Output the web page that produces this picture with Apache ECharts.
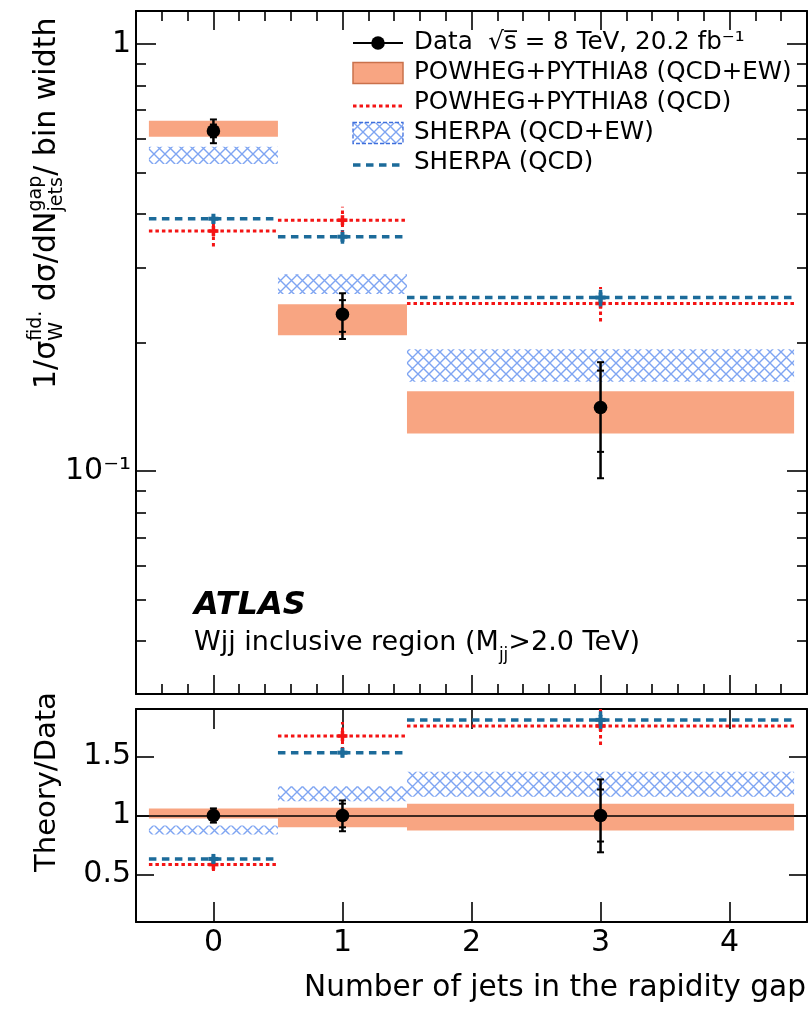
<!DOCTYPE html>
<html><head><meta charset="utf-8">
<script src="https://cdn.jsdelivr.net/npm/echarts@6/dist/echarts.min.js"></script>
<style>html,body{margin:0;padding:0;background:#fff}#c{width:811px;height:1010px}</style>
</head><body><div id="c"></div><script>
// ---------------- data ----------------
const binCenters = [0, 1, 3];
const binLow = [-0.5, 0.5, 1.5];
const binHigh = [0.5, 1.5, 4.5];
const xMajorTicks = [0, 1, 2, 3, 4];
const xTickLabels = ['0', '1', '2', '3', '4'];
const xMinorTicks = [-0.4, -0.2, 0.2, 0.4, 0.6, 0.8, 1.2, 1.4, 1.6, 1.8, 2.2, 2.4, 2.6, 2.8, 3.2, 3.4, 3.6, 3.8, 4.2, 4.4];

// top panel: 1/sigma dsigma/dN / bin width
const dataValue    = [0.626, 0.233, 0.141];
const dataTotLow   = [0.586, 0.204, 0.0963];
const dataTotHigh  = [0.666, 0.261, 0.180];
const dataStatLow  = [0.605, 0.212, 0.111];
const dataStatHigh = [0.648, 0.2515, 0.172];
const powhegEwLow  = [0.607, 0.208, 0.1226];
const powhegEwHigh = [0.661, 0.246, 0.154];
const sherpaEwLow  = [0.524, 0.260, 0.162];
const sherpaEwHigh = [0.575, 0.289, 0.193];
const powhegQcd     = [0.365, 0.387, 0.247];
const powhegQcdLow  = [0.336, 0.360, 0.224];
const powhegQcdHigh = [0.389, 0.416, 0.270];
const sherpaQcd     = [0.390, 0.354, 0.255];
const sherpaQcdLow  = [0.379, 0.341, 0.243];
const sherpaQcdHigh = [0.401, 0.367, 0.266];

// ratio panel: Theory / Data
const ratioRef = 1;
const rDataValue    = [1, 1, 1];
const rDataTotLow   = [0.94, 0.867, 0.689];
const rDataTotHigh  = [1.06, 1.127, 1.305];
const rDataStatLow  = [0.96, 0.90, 0.78];
const rDataStatHigh = [1.04, 1.10, 1.22];
const rPowhegEwLow  = [0.975, 0.90, 0.873];
const rPowhegEwHigh = [1.06, 1.065, 1.099];
const rSherpaEwLow  = [0.84, 1.121, 1.158];
const rSherpaEwHigh = [0.915, 1.248, 1.37];
const rPowhegQcd     = [0.585, 1.672, 1.757];
const rPowhegQcdLow  = [0.53, 1.55, 1.596];
const rPowhegQcdHigh = [0.64, 1.79, 1.92];
const rSherpaQcd     = [0.633, 1.531, 1.808];
const rSherpaQcdLow  = [0.60, 1.49, 1.73];
const rSherpaQcdHigh = [0.655, 1.57, 1.88];

// axes
const xMin = -0.6, xMax = 4.6;
const topYMin = 0.0301, topYMax = 1.195;
const topYMinor = [0.04, 0.05, 0.06, 0.07, 0.08, 0.09, 0.2, 0.3, 0.4, 0.5, 0.6, 0.7, 0.8, 0.9];
const ratioYMin = 0.1, ratioYMax = 1.9;
const ratioYTicks = [0.5, 1, 1.5];
const ratioYLabels = ['0.5', '1', '1.5'];

const legendLabels = ['Data  \u221As\u0305 = 8 TeV, 20.2 fb\u207B\u00B9', 'POWHEG+PYTHIA8 (QCD+EW)', 'POWHEG+PYTHIA8 (QCD)', 'SHERPA (QCD+EW)', 'SHERPA (QCD)'];

// ---------------- styles ----------------
const FONT = 'DejaVu Sans';
const SALMON = '#f8a582';
const SALMON_EDGE = '#c9714b';
const RED = '#f41414';
const BLUE = '#1c6b9a';
const HATCH = '#7fa5f2';
const RED_DASH = [3.5, 3];
const BLUE_DASH = [7.5, 5.5];

function hatchCanvas() {
  const c = document.createElement('canvas'); c.width = 11; c.height = 11;
  const g = c.getContext('2d');
  g.strokeStyle = HATCH; g.lineWidth = 1.4;
  g.beginPath(); g.moveTo(0, 0); g.lineTo(11, 11); g.moveTo(11, 0); g.lineTo(0, 11); g.stroke();
  return c;
}
const hatchFill = { image: hatchCanvas(), repeat: 'repeat' };

const mctx = document.createElement('canvas').getContext('2d');
function tw(t, s, pre) { mctx.font = (pre || '') + s + 'px "' + FONT + '"'; return mctx.measureText(t).width; }
function tx(x, y, t, s, extra) {
  return Object.assign({ type: 'text', x: x, y: y, z: 20,
    style: { text: t, fontSize: s, fontFamily: FONT, fill: '#000', align: 'left', verticalAlign: 'middle' } }, extra || {});
}
function row(parts, base, small, supDy, subDy) {
  let x = 0; const els = [];
  parts.forEach(p => {
    if (p.sup !== undefined || p.sub !== undefined) {
      let w = 0;
      if (p.sup) { els.push(tx(x, supDy, p.sup, small)); w = Math.max(w, tw(p.sup, small)); }
      if (p.sub) { els.push(tx(x, subDy, p.sub, small)); w = Math.max(w, tw(p.sub, small)); }
      x += w;
    } else { els.push(tx(x, 0, p.t, base)); x += tw(p.t, base); }
  });
  return els;
}

// ---------------- series builders ----------------
function bandSeries(name, xi, yi, lows, highs, style) {
  return { type: 'custom', name: name, xAxisIndex: xi, yAxisIndex: yi, z: 2, clip: true, silent: true,
    data: lows.map((l, i) => [binLow[i], binHigh[i], l, highs[i]]),
    encode: { x: [0, 1], y: [2, 3] },
    renderItem: (p, api) => {
      const a = api.coord([api.value(0), api.value(3)]);
      const b = api.coord([api.value(1), api.value(2)]);
      return { type: 'rect', shape: { x: a[0], y: a[1], width: b[0] - a[0], height: b[1] - a[1] }, style: style };
    } };
}
function modelSeries(name, xi, yi, vals, lows, highs, color, dash, width) {
  return { type: 'custom', name: name, xAxisIndex: xi, yAxisIndex: yi, z: 3, clip: true, silent: true,
    data: vals.map((v, i) => [binLow[i], binHigh[i], binCenters[i], v, lows[i], highs[i]]),
    encode: { x: [0, 1, 2], y: [3, 4, 5] },
    renderItem: (p, api) => {
      const a = api.coord([api.value(0), api.value(3)]);
      const b = api.coord([api.value(1), api.value(3)]);
      const c = api.coord([api.value(2), api.value(3)]);
      const lo = api.coord([api.value(2), api.value(4)]);
      const hi = api.coord([api.value(2), api.value(5)]);
      const st = { stroke: color, lineWidth: width, lineDash: dash, fill: null };
      return { type: 'group', children: [
        { type: 'line', shape: { x1: a[0], y1: a[1], x2: b[0], y2: b[1] }, style: st },
        { type: 'line', shape: { x1: c[0], y1: lo[1], x2: c[0], y2: hi[1] }, style: st },
        { type: 'line', shape: { x1: c[0] - 5, y1: c[1], x2: c[0] + 5, y2: c[1] }, style: { stroke: color, lineWidth: width + 0.5 } },
        { type: 'line', shape: { x1: c[0], y1: c[1] - 5, x2: c[0], y2: c[1] + 5 }, style: { stroke: color, lineWidth: width + 0.5 } }
      ] };
    } };
}
function dataSeries(name, xi, yi, vals, tl, th, sl, sh, extra) {
  return Object.assign({ type: 'custom', name: name, xAxisIndex: xi, yAxisIndex: yi, z: 4, clip: true, silent: true,
    data: vals.map((v, i) => [binCenters[i], v, tl[i], th[i], sl[i], sh[i]]),
    encode: { x: [0], y: [1, 2, 3, 4, 5] },
    renderItem: (p, api) => {
      const c = api.coord([api.value(0), api.value(1)]);
      const ys = [2, 3, 4, 5].map(k => api.coord([api.value(0), api.value(k)])[1]);
      const k = { stroke: '#000', lineWidth: 2.5 };
      const ch = [{ type: 'line', shape: { x1: c[0], y1: ys[0], x2: c[0], y2: ys[1] }, style: k }];
      ys.forEach(y => ch.push({ type: 'line', shape: { x1: c[0] - 3.5, y1: y, x2: c[0] + 3.5, y2: y }, style: { stroke: '#000', lineWidth: 2 } }));
      ch.push({ type: 'circle', shape: { cx: c[0], cy: c[1], r: 6.8 }, style: { fill: '#000' } });
      return { type: 'group', children: ch };
    } }, extra || {});
}

// ---------------- axes ----------------
const lineSt = { color: '#000', width: 2 };
const tickSt = { color: '#000', width: 1.6 };
const lab = { fontSize: 30, fontFamily: FONT, color: '#000' };
function xAx(grid, pos, ticks, len, line, labels) {
  return { type: 'value', gridIndex: grid, position: pos, min: xMin, max: xMax,
    axisLine: { show: line, onZero: false, lineStyle: lineSt },
    axisTick: { show: true, inside: true, length: len, customValues: ticks, lineStyle: tickSt },
    axisLabel: labels ? Object.assign({ show: true, margin: 6, customValues: xMajorTicks,
      formatter: v => xTickLabels[xMajorTicks.indexOf(Math.round(v))] }, lab) : { show: false },
    splitLine: { show: false } };
}

const option = {
  animation: false,
  backgroundColor: '#fff',
  grid: [
    { left: 136, top: 11, width: 671, height: 683, containLabel: false, outerBoundsMode: 'none' },
    { left: 136, top: 11, width: 671, height: 683, containLabel: false, outerBoundsMode: 'none' },
    { left: 136, top: 709, width: 671, height: 213, containLabel: false, outerBoundsMode: 'none' }
  ],
  xAxis: [
    xAx(0, 'bottom', xMajorTicks, 19, true, false),
    xAx(0, 'top', xMajorTicks, 19, true, false),
    xAx(1, 'bottom', xMinorTicks, 10, false, false),
    xAx(1, 'top', xMinorTicks, 10, false, false),
    xAx(2, 'bottom', xMajorTicks, 20, true, true),
    xAx(2, 'top', xMajorTicks, 20, true, false)
  ],
  yAxis: [
    { type: 'log', logBase: 10, gridIndex: 0, position: 'left', min: topYMin, max: topYMax,
      axisLine: { show: true, onZero: false, lineStyle: lineSt },
      axisTick: { show: true, inside: true, length: 20, lineStyle: tickSt },
      axisLabel: Object.assign({ show: true, margin: 5, showMinLabel: false, showMaxLabel: false,
        formatter: v => (v > 0.5 ? '1' : '10\u207B\u00B9') }, lab),
      splitLine: { show: false }, minorTick: { show: false } },
    { type: 'log', logBase: 10, gridIndex: 0, position: 'right', min: topYMin, max: topYMax,
      axisLine: { show: true, onZero: false, lineStyle: lineSt },
      axisTick: { show: true, inside: true, length: 20, lineStyle: tickSt },
      axisLabel: { show: false }, splitLine: { show: false } },
    { type: 'value', gridIndex: 1, position: 'left', min: Math.log10(topYMin), max: Math.log10(topYMax),
      axisLine: { show: false, onZero: false },
      axisTick: { show: true, inside: true, length: 10, customValues: topYMinor.map(Math.log10), lineStyle: tickSt },
      axisLabel: { show: false }, splitLine: { show: false } },
    { type: 'value', gridIndex: 1, position: 'right', min: Math.log10(topYMin), max: Math.log10(topYMax),
      axisLine: { show: false, onZero: false },
      axisTick: { show: true, inside: true, length: 10, customValues: topYMinor.map(Math.log10), lineStyle: tickSt },
      axisLabel: { show: false }, splitLine: { show: false } },
    { type: 'value', gridIndex: 2, position: 'left', min: ratioYMin, max: ratioYMax,
      axisLine: { show: true, onZero: false, lineStyle: lineSt },
      axisTick: { show: true, inside: true, length: 18, customValues: ratioYTicks, lineStyle: tickSt },
      axisLabel: Object.assign({ show: true, margin: 5, customValues: ratioYTicks,
        formatter: v => ratioYLabels[ratioYTicks.indexOf(v)] }, lab),
      splitLine: { show: false } },
    { type: 'value', gridIndex: 2, position: 'right', min: ratioYMin, max: ratioYMax,
      axisLine: { show: true, onZero: false, lineStyle: lineSt },
      axisTick: { show: true, inside: true, length: 18, customValues: ratioYTicks, lineStyle: tickSt },
      axisLabel: { show: false }, splitLine: { show: false } }
  ],
  series: [
    bandSeries('POWHEG+PYTHIA8 (QCD+EW)', 0, 0, powhegEwLow, powhegEwHigh, { fill: SALMON }),
    bandSeries('SHERPA (QCD+EW)', 0, 0, sherpaEwLow, sherpaEwHigh, { fill: hatchFill }),
    modelSeries('POWHEG+PYTHIA8 (QCD)', 0, 0, powhegQcd, powhegQcdLow, powhegQcdHigh, RED, RED_DASH, 3),
    modelSeries('SHERPA (QCD)', 0, 0, sherpaQcd, sherpaQcdLow, sherpaQcdHigh, BLUE, BLUE_DASH, 3.5),
    dataSeries('Data', 0, 0, dataValue, dataTotLow, dataTotHigh, dataStatLow, dataStatHigh),

    bandSeries('ratio POWHEG (QCD+EW)', 4, 4, rPowhegEwLow, rPowhegEwHigh, { fill: SALMON }),
    bandSeries('ratio SHERPA (QCD+EW)', 4, 4, rSherpaEwLow, rSherpaEwHigh, { fill: hatchFill }),
    modelSeries('ratio POWHEG (QCD)', 4, 4, rPowhegQcd, rPowhegQcdLow, rPowhegQcdHigh, RED, RED_DASH, 3),
    modelSeries('ratio SHERPA (QCD)', 4, 4, rSherpaQcd, rSherpaQcdLow, rSherpaQcdHigh, BLUE, BLUE_DASH, 3.5),
    dataSeries('ratio Data', 4, 4, rDataValue, rDataTotLow, rDataTotHigh, rDataStatLow, rDataStatHigh, {
      markLine: { silent: true, symbol: 'none', label: { show: false }, animation: false,
        lineStyle: { color: '#000', width: 1.5, type: 'solid' }, data: [{ yAxis: ratioRef }] } })
  ],
  graphic: []
};

// ---------------- legend & texts ----------------
const rowsY = [43, 73, 103, 133, 163];
const g = option.graphic;
const symL = 353, symR = 403, textX = 414, legSize = 24.6;
g.push({ type: 'line', z: 20, shape: { x1: symL, y1: rowsY[0], x2: symR, y2: rowsY[0] }, style: { stroke: '#000', lineWidth: 2 } });
g.push({ type: 'circle', z: 20, shape: { cx: (symL + symR) / 2, cy: rowsY[0], r: 6.8 }, style: { fill: '#000' } });
g.push({ type: 'rect', z: 20, shape: { x: symL, y: rowsY[1] - 10.5, width: symR - symL, height: 21 }, style: { fill: SALMON, stroke: SALMON_EDGE, lineWidth: 1.5 } });
g.push({ type: 'line', z: 20, shape: { x1: symL, y1: rowsY[2] + 3, x2: symR, y2: rowsY[2] + 3 }, style: { stroke: RED, lineWidth: 3, lineDash: RED_DASH } });
g.push({ type: 'rect', z: 20, shape: { x: symL, y: rowsY[3] - 10.5, width: symR - symL, height: 21 }, style: { fill: hatchFill, stroke: '#3f6fdc', lineWidth: 1.3, lineDash: [4, 2] } });
g.push({ type: 'line', z: 20, shape: { x1: symL, y1: rowsY[4] + 2, x2: symR, y2: rowsY[4] + 2 }, style: { stroke: BLUE, lineWidth: 3.5, lineDash: BLUE_DASH } });
legendLabels.forEach((t, i) => g.push(tx(textX, rowsY[i], t, legSize)));

// ATLAS label
g.push(tx(194, 606, 'ATLAS', 32, {}));
g[g.length - 1].style.fontWeight = 'bold';
g[g.length - 1].style.fontStyle = 'italic';
g.push({ type: 'group', x: 194, y: 643, children: row([
  { t: 'Wjj inclusive region (M' }, { sub: 'jj' }, { t: '>2.0 TeV)' }
], 27, 17, -10, 13) });

// y titles
g.push({ type: 'group', x: 47, y: 389, rotation: Math.PI / 2, children: row([
  { t: '1/\u03C3' }, { sup: 'fid.', sub: 'W' }, { t: ' d\u03C3/dN' }, { sup: 'gap', sub: 'jets' }, { t: '/ bin width' }
], 30, 19, -11, 10) });
g.push({ type: 'text', z: 20, x: 47, y: 782, rotation: Math.PI / 2,
  style: { text: 'Theory/Data', fontSize: 29, fontFamily: FONT, fill: '#000', align: 'center', verticalAlign: 'middle' } });
// x title
g.push({ type: 'text', z: 20, x: 806, y: 988,
  style: { text: 'Number of jets in the rapidity gap', fontSize: 29.6, fontFamily: FONT, fill: '#000', align: 'right', verticalAlign: 'middle' } });

const chart = echarts.init(document.getElementById('c'), null, { renderer: 'canvas', width: 811, height: 1010 });
chart.setOption(option);
</script></body></html>
